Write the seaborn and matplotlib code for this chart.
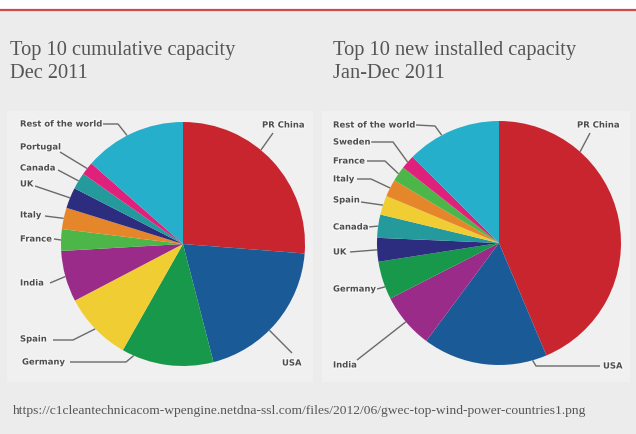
import matplotlib
matplotlib.use("Agg")
import matplotlib.pyplot as plt
import matplotlib.patheffects as pe
from matplotlib.patches import Rectangle
import numpy as np
import seaborn as sns

# ---------------- data ----------------
cum_countries = ["PR China", "USA", "Germany", "Spain", "India", "France",
                 "Italy", "UK", "Canada", "Portugal", "Rest of the world"]
cum_values = [62364, 46919, 29060, 21674, 16084, 6800, 6747, 6540, 5265, 4083, 32143]

new_countries = ["PR China", "USA", "India", "Germany", "UK", "Canada",
                 "Spain", "Italy", "France", "Sweden", "Rest of the world"]
new_values = [18000, 6810, 3019, 2086, 1293, 1267, 1050, 950, 830, 763, 5171]

color_names = ["PR China", "USA", "Germany", "Spain", "India", "France", "Italy",
               "UK", "Canada", "Portugal", "Sweden", "Rest of the world"]
color_hex = ["#c8252f", "#1a5b97", "#17984a", "#f0cd33", "#9b2b89", "#4cb748", "#e6862b",
             "#2c2d7e", "#259a9c", "#e0217b", "#e0217b", "#25afcb"]

title_left = ["Top 10 cumulative capacity", "Dec 2011"]
title_right = ["Top 10 new installed capacity", "Jan-Dec 2011"]
source_text = "https://c1cleantechnicacom-wpengine.netdna-ssl.com/files/2012/06/gwec-top-wind-power-countries1.png"

# ---------------- style ----------------
sns.set_theme(style="white")
plt.rcParams["font.family"] = ["DejaVu Sans"]
palette = dict(zip(color_names, sns.color_palette(color_hex)))

W, H = 636, 435
BG = "#ececec"
TXT = "#555555"
LBL = "#4e4e4e"
LINE = "#6a6a6a"

fig = plt.figure(figsize=(W / 100, H / 100), dpi=100, facecolor=BG)
ax = fig.add_axes([0, 0, 1, 1])
ax.set_facecolor(BG)


def Y(y):
    return H - y


# header strip and red rule
ax.add_patch(Rectangle((0, Y(10)), W, 10, facecolor="white", edgecolor="none", zorder=0))
ax.plot([0, W], [Y(10.5), Y(10.5)], color="#cf4a4e", lw=1.6, solid_capstyle="butt", zorder=1)

# light panels behind the pies
ax.add_patch(Rectangle((7, Y(383)), 306, 271, facecolor="#f0f0f0", edgecolor="none", zorder=0))
ax.add_patch(Rectangle((322, Y(383)), 308, 271, facecolor="#f0f0f0", edgecolor="none", zorder=0))

# titles
serif = ["Liberation Serif", "DejaVu Serif"]
for (l1, l2), x in [(title_left, 10), (title_right, 333)]:
    ax.text(x, Y(55), l1, family=serif, fontsize=14.7, color=TXT, va="baseline", ha="left")
    ax.text(x, Y(78), l2, family=serif, fontsize=14.7, color=TXT, va="baseline", ha="left")

ax.text(13, Y(414), source_text, family=serif, fontsize=9.7, color=TXT, va="baseline", ha="left")

# label layout: text position, line start, optional elbow, position within wedge
left_labels = {
    "Rest of the world": ((20, 125), (101, 125), (118, 125), 0.44),
    "Portugal": ((20, 148), (60, 153), None, 0.5),
    "Canada": ((20, 169), (58, 171), None, 0.5),
    "UK": ((20, 185), (35, 187), None, 0.5),
    "Italy": ((20, 216), (45, 217), None, 0.5),
    "France": ((20, 240), (54, 240), None, 0.5),
    "India": ((20, 284), (50, 284), None, 0.5),
    "Spain": ((20, 340), (53, 341), (73, 341), 0.5),
    "Germany": ((22, 363), (70, 363), (126, 363), 0.87),
    "PR China": ((262, 126), (273, 134), None, 0.42),
    "USA": ((282, 364), (292, 354), None, 0.57),
}
right_labels = {
    "Rest of the world": ((333, 126), (416, 126), (435, 127), 0.38),
    "Sweden": ((333, 143), (371, 143), (393, 143), 0.5),
    "France": ((333, 162), (367, 162), (385, 162), 0.5),
    "Italy": ((333, 180), (357, 180), (371, 180), 0.5),
    "Spain": ((333, 201), (361, 203), None, 0.5),
    "Canada": ((333, 228), (368, 228), None, 0.5),
    "UK": ((333, 253), (350, 253), None, 0.5),
    "Germany": ((333, 290), (377, 290), None, 0.33),
    "India": ((333, 366), (357, 361), None, 0.5),
    "PR China": ((577, 126), (590, 134), None, 0.265),
    "USA": ((603, 367), (600, 367), (536, 367), 0.116),
}

halo = [pe.withStroke(linewidth=2.0, foreground="#f6f6f6")]


def draw_pie(countries, values, center_px, radius, labels):
    cx, cy = center_px[0], Y(center_px[1])
    wedges, _ = ax.pie(values, colors=[palette[c] for c in countries],
                       startangle=90, counterclock=False,
                       center=(cx, cy), radius=radius,
                       wedgeprops=dict(linewidth=0))
    for w in wedges:
        w.set_zorder(3)
    for name, w in zip(countries, wedges):
        (tx, ty), (sx, sy), elbow, frac = labels[name]
        ang = np.deg2rad(w.theta2 - frac * (w.theta2 - w.theta1))
        ex, ey = cx + radius * np.cos(ang), cy + radius * np.sin(ang)
        xs, ys = [sx], [Y(sy)]
        if elbow is not None:
            xs.append(elbow[0]); ys.append(Y(elbow[1]))
        xs.append(ex); ys.append(ey)
        ax.plot(xs, ys, color=LINE, lw=1.0, zorder=2, solid_capstyle="butt")
        ax.text(tx, Y(ty), name, fontsize=6.1, fontweight="bold", color=LBL,
                ha="left", va="center", zorder=4, path_effects=halo)


draw_pie(cum_countries, cum_values, (183, 245), 122, left_labels)
draw_pie(new_countries, new_values, (499, 244), 122, right_labels)

ax.set_xlim(0, W)
ax.set_ylim(0, H)
ax.set_aspect("auto")
ax.axis("off")

fig.savefig("out.png", dpi=100, facecolor=BG)
